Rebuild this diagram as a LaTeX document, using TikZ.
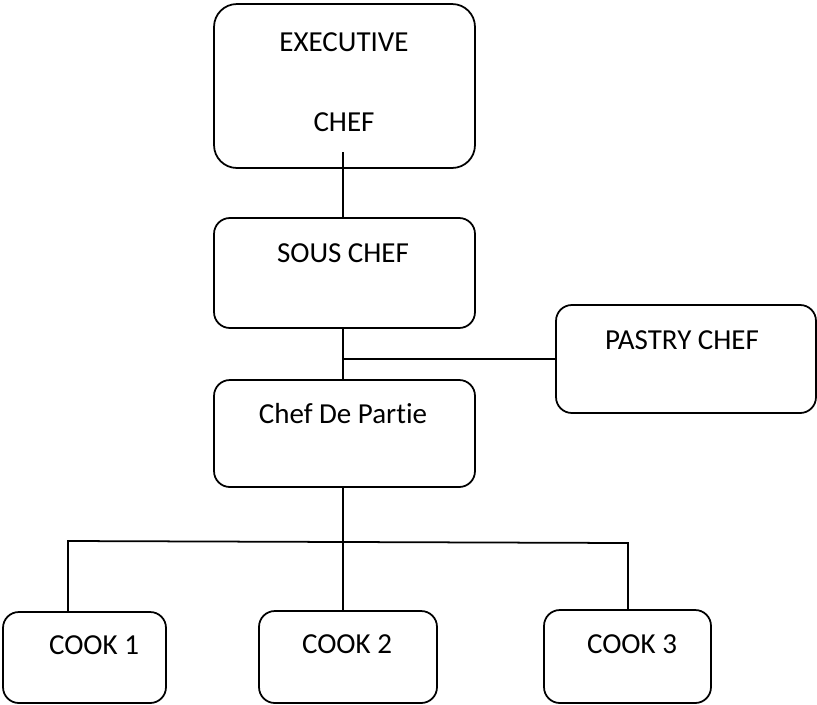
\documentclass[tikz,border=0pt]{standalone}
\usepackage{fontspec}
\setmainfont{Carlito}[Ligatures=NoCommon]
\usepackage{tikz}
\usetikzlibrary{positioning,calc}

\begin{document}
\begin{tikzpicture}[x=0.02cm,y=-0.02cm,line width=1pt,font=\fontsize{16.5}{19}\selectfont,
  box/.style={draw,rounded corners=9pt,inner sep=0pt},
  lbl/.style={inner sep=0pt}]
  \useasboundingbox (0,0) rectangle (817,704);
  % boxes
  \node[box,rounded corners=13pt,minimum width=5.22cm,minimum height=3.28cm] (ex) at (344.5,86) {};
  \node[box,minimum width=5.22cm,minimum height=2.2cm] (sous) at (344.5,273) {};
  \node[box,minimum width=5.22cm,minimum height=2.14cm] (cdp) at (344.5,433.5) {};
  \node[box,minimum width=5.2cm,minimum height=2.16cm] (pastry) at (686,359) {};
  \node[box,minimum width=3.26cm,minimum height=1.82cm] (ck1) at (84.5,657.5) {};
  \node[box,minimum width=3.56cm,minimum height=1.84cm] (ck2) at (348,657) {};
  \node[box,minimum width=3.34cm,minimum height=1.86cm] (ck3) at (627.5,656.5) {};
  % texts
  \node[lbl] (exA) at (344,42) {EXECUTIVE};
  \node[lbl] (exB) at (344,122) {CHEF};
  \node[lbl] (sousT) at (343,253) {SOUS CHEF};
  \node[lbl] (pastryT) at (682,340) {PASTRY CHEF};
  \node[lbl] (cdpT) at (343,414) {Chef De Partie};
  \node[lbl] (ck1T) at (94,645) {COOK 1};
  \node[lbl] (ck2T) at (347,644) {COOK 2};
  \node[lbl] (ck3T) at (632,644) {COOK 3};
  % lines
  \coordinate (ec) at (343,152);
  \coordinate (busL) at (68,541);
  \coordinate (busR) at (628,543);
  \draw (ec) -- (ec |- sous.north);
  \draw (ec |- sous.south) -- (ec |- cdp.north);
  \draw (ec |- pastry.west) -- (pastry.west);
  \draw (ec |- cdp.south) -- (ec |- ck2.north);
  \draw (ck1.north -| busL) -- (busL) -- (busR) -- (ck3.north -| busR);
\end{tikzpicture}
\end{document}
